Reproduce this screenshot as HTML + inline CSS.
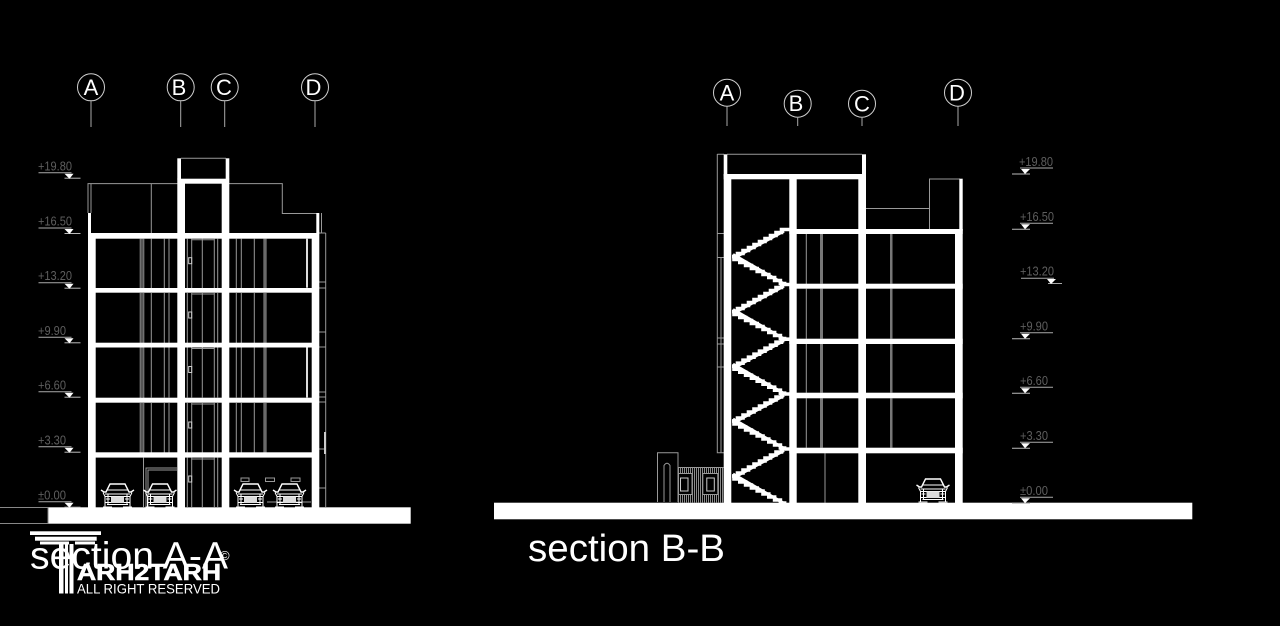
<!DOCTYPE html>
<html><head><meta charset="utf-8"><style>
html,body{margin:0;padding:0;background:#000;width:1280px;height:626px;overflow:hidden}
svg{display:block}
text{font-family:"Liberation Sans",sans-serif}
.l{fill:#5e5e5e;font-size:13px}
.b{fill:#fff;font-size:22px;text-anchor:middle}
</style></head><body>
<svg width="1280" height="626" viewBox="0 0 1280 626" xmlns="http://www.w3.org/2000/svg">
<defs>
<pattern id="hatch" width="2" height="4" patternUnits="userSpaceOnUse"><rect width="1" height="4" fill="#8a8a8a"/></pattern>
<g id="car" fill="none" stroke="#fff" stroke-width="1">
<path d="M1 6.500 L4 8.500 H6 L10 0.500 H25 L29 8.500 H31 L34 6.500" stroke-width="1.400"/>
<path d="M7 6.500 H28 M3 9 L5 13 V23.500 M32 9 L30 13 V23.500 M5 10.500 H30 M5 13 H30 M5 19 H30 M3 23.500 H12 M23 23.500 H32 M8 10.500V21M27 10.500V21" />
<rect x="11" y="13" width="13" height="6.500" fill="#ddd" stroke="none"/>
<path d="M6 15.500 H10 M25 15.500 H29 M7 21 H28"/>
</g>
<g id="bubble">
<circle cx="0" cy="0" r="13.500" fill="none" stroke="#cfcfcf" stroke-width="1"/>
</g>
<g id="lvl"><path d="M0 0 H33" stroke="#aaa" stroke-width="1"/><path d="M26 5.500 H42" stroke="#bbb" stroke-width="1"/><path d="M26 1 L35 1 L31 6Z" fill="#fff"/></g>
<g id="lvlr"><path d="M8 0 H41" stroke="#aaa" stroke-width="1"/><path d="M0 6 H18" stroke="#bbb" stroke-width="1"/><path d="M9 1 L18 1 L13 6Z" fill="#fff"/></g>
<g id="fa" fill="none">
<path d="M140.300 0V50.500M143.700 0V50.500" stroke="#777" stroke-width="1.300"/>
<path d="M142 0V50" stroke="#555" stroke-width="2"/>
<path d="M151.300 0V50M164.300 0V50M169 0V50M187.300 0V50M191.700 0V50M202.300 0V50M214.300 0V50M217.700 0V50M236.300 0V50M241.300 0V50M254.300 0V50" stroke="#999" stroke-width="1"/>
<path d="M191.700 1H214.300" stroke="#999" stroke-width="1"/>
<rect x="188.700" y="19" width="3" height="6" stroke="#ccc" stroke-width="1"/>
<rect x="263.300" y="0" width="3.400" height="50" fill="#6a6a6a"/>
</g>
<g id="st" fill="none" stroke="#fff" stroke-width="3.600">
<path d="M732 256.500 h5.500v-3h5.500v-3h5.500v-3h5.500v-3h5.500v-3h5.500v-3h5.500v-3h5.500v-3h5.500v-3h8"/>
<path d="M732 256.500 h2v3h5.800v3h5.800v3h5.800v3h5.800v3h5.800v3h5.800v3h5.800v3h5.800v3h6"/>
<path d="M733 258.500L784 231M733 254.500L786 285" stroke-width="3"/>
</g>
</defs>

<!-- LEFT SECTION -->
<g>
<use href="#bubble" x="91" y="87.300"/><use href="#bubble" x="180.700" y="87.300"/><use href="#bubble" x="224.700" y="87.300"/><use href="#bubble" x="315" y="87.300"/>
<text class="b" x="91" y="95">A</text><text class="b" x="179" y="95">B</text><text class="b" x="224" y="95">C</text><text class="b" x="313.500" y="95">D</text>
<path d="M91 101V127M180.700 101V127M224.700 101V127M315 101V127" stroke="#aaa" stroke-width="1"/>

<g fill="none" stroke="#999" stroke-width="1">
<path d="M88 213V183.600H177.300M91 183.600V213M151.300 183.600V233M229 183.600H282.300V213.500H316.500"/>
<path d="M181 158.300H226"/>
<path d="M321.500 213V233M325.700 233V507M319 233H325.700M319 282H325.700M319 288H325.700M319 332H325.700M319 347H325.700M319 392H325.700M319 397H325.700M319 402H325.700M319 449H325.700M319 488H325.700"/>
</g>
<rect x="324" y="432" width="2" height="22" fill="#ccc"/>

<use href="#fa" x="0" y="238.700"/>
<use href="#fa" x="0" y="293"/>
<use href="#fa" x="0" y="347.500"/>
<use href="#fa" x="0" y="403"/>
<rect x="306" y="238.700" width="2" height="49" fill="#ddd"/>
<rect x="306" y="347.500" width="2" height="50" fill="#ddd"/>

<!-- ground floor -->
<g fill="none" stroke="#999" stroke-width="1">
<path d="M143.500 457.600V507M146 508V468H177M148 508V470H177"/>
<path d="M187.300 457.600V507M191.700 457.600V507M202.300 457.600V507M214.300 457.600V507M217.700 457.600V507M191.700 459H214.300"/>
<rect x="188.700" y="476" width="3" height="6" stroke="#ccc"/>
<rect x="241" y="478" width="8" height="3.500"/><rect x="265.500" y="478" width="9" height="3.500"/><rect x="291" y="478" width="9" height="3.500"/>
<path d="M267 502H311"/>
</g>

<!-- structure -->
<g fill="#fff">
<rect x="88" y="213" width="3" height="20"/>
<rect x="88" y="233" width="7.700" height="274.500"/>
<rect x="177.300" y="158.300" width="3.700" height="21"/>
<rect x="225.700" y="158.300" width="3.600" height="21"/>
<rect x="177.300" y="178.700" width="52" height="5"/>
<rect x="177.300" y="183" width="7.700" height="324.500"/>
<rect x="221.700" y="183" width="7.600" height="324.500"/>
<rect x="316.300" y="213" width="3" height="20"/>
<rect x="311.700" y="233" width="7.600" height="274.500"/>
<rect x="88" y="233" width="231" height="5.700"/>
<rect x="88" y="288" width="231" height="4.700"/>
<rect x="88" y="342.700" width="231" height="4.800"/>
<rect x="88" y="397.700" width="231" height="5"/>
<rect x="88" y="452.300" width="231" height="5.300"/>
<rect x="48" y="507.300" width="362.700" height="16.400"/>
</g>
<rect x="-1" y="507.500" width="49" height="16" fill="none" stroke="#888"/>

<use href="#car" x="100" y="483.500"/>
<use href="#car" x="142.500" y="483.500"/>
<use href="#car" x="233" y="483.500"/>
<use href="#car" x="272" y="483.500"/>

<text class="l" x="38" y="170.500" textLength="34" lengthAdjust="spacingAndGlyphs">+19.80</text>
<text class="l" x="38" y="225.500" textLength="34" lengthAdjust="spacingAndGlyphs">+16.50</text>
<text class="l" x="38" y="280" textLength="34" lengthAdjust="spacingAndGlyphs">+13.20</text>
<text class="l" x="38" y="335" textLength="28" lengthAdjust="spacingAndGlyphs">+9.90</text>
<text class="l" x="38" y="389.500" textLength="28" lengthAdjust="spacingAndGlyphs">+6.60</text>
<text class="l" x="38" y="444.500" textLength="28" lengthAdjust="spacingAndGlyphs">+3.30</text>
<text class="l" x="38" y="499.500" textLength="28" lengthAdjust="spacingAndGlyphs">±0.00</text>
<use href="#lvl" x="38.500" y="172.700"/><use href="#lvl" x="38.500" y="228"/><use href="#lvl" x="38.500" y="282.700"/><use href="#lvl" x="38.500" y="337.300"/><use href="#lvl" x="38.500" y="391.700"/><use href="#lvl" x="38.500" y="446.700"/><use href="#lvl" x="38.500" y="501.700"/>

<text x="30" y="568.500" fill="#fff" font-size="38" textLength="198" lengthAdjust="spacingAndGlyphs">section A-A</text>
</g>

<!-- LOGO -->
<g fill="#fff">
<rect x="30" y="531.300" width="71" height="3.700"/>
<rect x="35" y="536.700" width="61.700" height="4"/>
<rect x="40" y="541.500" width="29" height="3"/><rect x="75" y="541.500" width="20" height="3"/>
<rect x="59" y="544" width="4.500" height="49.500"/>
<rect x="65" y="544" width="3" height="49.500"/>
<rect x="69.500" y="544" width="4" height="49.500"/>
</g>
<text x="77" y="580" fill="#fff" stroke="#fff" stroke-width="0.600" font-size="23.500" font-weight="bold" textLength="144" lengthAdjust="spacingAndGlyphs">ARH2TARH</text>
<text x="77" y="593.500" fill="#fff" font-size="14" textLength="143" lengthAdjust="spacingAndGlyphs">ALL RIGHT RESERVED</text>
<text x="220" y="560" fill="#fff" font-size="13">©</text>

<!-- RIGHT SECTION -->
<g>
<use href="#bubble" x="727" y="92.700"/><use href="#bubble" x="797.700" y="103.700"/><use href="#bubble" x="862" y="103.700"/><use href="#bubble" x="958" y="92.700"/>
<text class="b" x="727" y="100.500">A</text><text class="b" x="796" y="111">B</text><text class="b" x="862" y="111.500">C</text><text class="b" x="957" y="100.500">D</text>
<path d="M727 106.500V126M797.700 117V126M862 117V126M958 106.500V126" stroke="#aaa" stroke-width="1"/>

<g fill="none" stroke="#999" stroke-width="1">
<path d="M727 154.300H862M717.300 154.300H724"/>
<path d="M717.300 154V452.700H724M721 258V452.700M717.300 233.500H724M717.300 257.500H724M717.300 338H724M717.300 344H724M717.300 367H724"/>
<path d="M866 208.500H929.500M929.500 229V179H960"/>
<path d="M806.300 234V284M806.300 288.700V338.700M806.300 344V392.700M806.300 398.300V447.700M825 453.300V502.700"/>
</g>
<g fill="#777">
<rect x="820" y="234" width="3" height="49.700"/><rect x="820" y="288.700" width="3" height="50"/><rect x="820" y="344" width="3" height="48.700"/><rect x="820" y="398.300" width="3" height="49.400"/>
<rect x="890" y="234" width="2.500" height="49.700"/><rect x="890" y="288.700" width="2.500" height="50"/><rect x="890" y="344" width="2.500" height="48.700"/><rect x="890" y="398.300" width="2.500" height="49.400"/>
</g>

<!-- stairs -->
<use href="#st"/><use href="#st" y="55"/><use href="#st" y="109.700"/><use href="#st" y="164.500"/><use href="#st" y="219.500"/>

<g fill="#fff">
<rect x="723.700" y="154.300" width="3.600" height="22"/>
<rect x="862" y="154.300" width="4" height="22"/>
<rect x="723.700" y="174" width="142.300" height="5.300"/>
<rect x="723.700" y="174" width="7.600" height="329"/>
<rect x="789.300" y="174" width="7.400" height="329"/>
<rect x="858.300" y="174" width="7.700" height="329"/>
<rect x="959.300" y="178.700" width="3.400" height="52"/>
<rect x="955" y="229" width="7.700" height="274"/>
<rect x="789.300" y="229" width="173.400" height="5"/>
<rect x="789.300" y="283.700" width="173.400" height="5"/>
<rect x="789.300" y="338.700" width="173.400" height="5.300"/>
<rect x="789.300" y="392.700" width="173.400" height="5.600"/>
<rect x="789.300" y="447.700" width="173.400" height="5.600"/>
</g>
<rect x="725" y="503" width="70" height="30" fill="#000"/>
<rect x="494" y="502.700" width="698.300" height="16.600" fill="#fff"/>

<!-- small front building -->
<rect x="678" y="467.500" width="45.700" height="35" fill="url(#hatch)"/>
<g fill="none" stroke="#999" stroke-width="1">
<path d="M657.500 502V452.700H678V502M664 502V465.500Q667 461 670 465.500V502"/>
<path d="M678 467.500H723.700"/>
<rect x="678.500" y="473.500" width="13.500" height="21" fill="#000"/>
<rect x="680.500" y="478" width="7.500" height="13" stroke="#ccc"/>
<rect x="702.800" y="473.500" width="15" height="21" fill="#000"/>
<rect x="706.800" y="478" width="7.500" height="13" stroke="#ccc"/>
</g>

<use href="#car" x="915.500" y="478.500"/>

<text class="l" x="1019" y="166" textLength="34" lengthAdjust="spacingAndGlyphs">+19.80</text>
<text class="l" x="1020" y="221" textLength="34" lengthAdjust="spacingAndGlyphs">+16.50</text>
<text class="l" x="1020" y="275.500" textLength="34" lengthAdjust="spacingAndGlyphs">+13.20</text>
<text class="l" x="1020" y="330.500" textLength="28" lengthAdjust="spacingAndGlyphs">+9.90</text>
<text class="l" x="1020" y="385" textLength="28" lengthAdjust="spacingAndGlyphs">+6.60</text>
<text class="l" x="1020" y="440" textLength="28" lengthAdjust="spacingAndGlyphs">+3.30</text>
<text class="l" x="1020" y="495" textLength="28" lengthAdjust="spacingAndGlyphs">±0.00</text>
<use href="#lvlr" x="1012" y="168"/><use href="#lvlr" x="1012" y="223.300"/>
<path d="M1021 278.300H1054M1048 283.500H1062" stroke="#aaa" stroke-width="1" fill="none"/><path d="M1047 279L1056 279L1051 284Z" fill="#fff"/>
<use href="#lvlr" x="1012" y="332.700"/><use href="#lvlr" x="1012" y="387.300"/><use href="#lvlr" x="1012" y="442.300"/><use href="#lvlr" x="1012" y="497.300"/>

<text x="528" y="561" fill="#fff" font-size="38" textLength="197" lengthAdjust="spacingAndGlyphs">section B-B</text>
</g>
</svg>
</body></html>
